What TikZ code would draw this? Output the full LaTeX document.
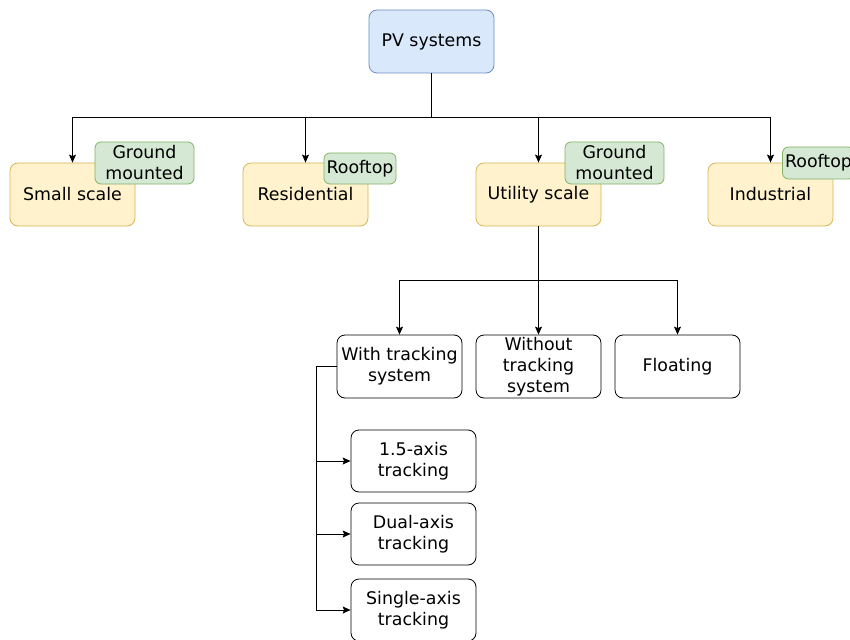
\documentclass[tikz,border=0pt]{standalone}
\usepackage{fontspec}
\setmainfont{DejaVu Sans}
\usetikzlibrary{arrows.meta}
\definecolor{bluef}{HTML}{DAE8FC}
\definecolor{blued}{HTML}{6C8EBF}
\definecolor{yelf}{HTML}{FFF2CC}
\definecolor{yeld}{HTML}{D6B656}
\definecolor{grnf}{HTML}{D5E8D4}
\definecolor{grnd}{HTML}{82B366}
\tikzset{
  box/.style={draw, rounded corners=8pt, inner sep=0pt, align=center,
    minimum width=125pt, minimum height=63pt, line width=0.8pt,
    font=\fontsize{17.4}{21}\selectfont},
  bluebox/.style={box, fill=bluef, draw=blued},
  yelbox/.style={box, fill=yelf, draw=yeld},
  whitebox/.style={box, fill=white, draw=black},
  tag/.style={box, fill=grnf, draw=grnd, rounded corners=6pt},
  conn/.style={draw=black, line width=0.8pt},
  arr/.style={conn, -{Stealth[length=8pt,width=7pt,inset=1.5pt]}}
}
\begin{document}
\begin{tikzpicture}[x=1pt,y=-1pt]
\useasboundingbox (0,0) rectangle (850,639);
\node[bluebox] (pv) at (431.5,41.5) {PV systems};
\node[yelbox] (small) at (72.5,194.5) {Small scale};
\node[yelbox] (res) at (305.5,194.5) {Residential};
\node[yelbox] (util) at (538.5,194.5) {Utility scale};
\node[yelbox] (ind) at (770.5,194.5) {Industrial};
\node[tag, minimum width=99pt, minimum height=42pt] (t1) at (144.5,163) {Ground\\mounted};
\node[tag, minimum width=72pt, minimum height=31pt] (t2) at (360,168.5) {Rooftop};
\node[tag, minimum width=99pt, minimum height=42pt] (t3) at (614.5,163) {Ground\\mounted};
\node[tag, minimum width=72pt, minimum height=32pt] (t4) at (818.5,163) {Rooftop};

\node[whitebox] (with) at (399.5,366.5) {With tracking\\system};
\node[whitebox] (without) at (538.5,366.5) {Without\\tracking\\system};
\node[whitebox] (float) at (677.5,366.5) {Floating};
\node[whitebox, minimum height=62pt] (a15) at (413.5,461) {1.5-axis\\tracking};
\node[whitebox, minimum height=62pt] (dual) at (413.5,534) {Dual-axis\\tracking};
\node[whitebox, minimum height=62pt] (single) at (413.5,610) {Single-axis\\tracking};

\coordinate (bus) at (431.5,117);
\draw[conn] (pv.south) -- (bus);
\draw[arr] (bus) -| (small.north);
\draw[arr] (bus) -| (res.north);
\draw[arr] (bus) -| (util.north);
\draw[arr] (bus) -| (ind.north);

\coordinate (bus2) at (538.5,280);
\draw[arr] (util.south) -- (without.north);
\draw[arr] (bus2) -| (with.north);
\draw[arr] (bus2) -| (float.north);

\coordinate (left) at (316,366.5);
\draw[conn] (with.west) -- (left);
\draw[arr] (left) |- (a15.west);
\draw[arr] (left) |- (dual.west);
\draw[arr] (left) |- (single.west);
\end{tikzpicture}
\end{document}
